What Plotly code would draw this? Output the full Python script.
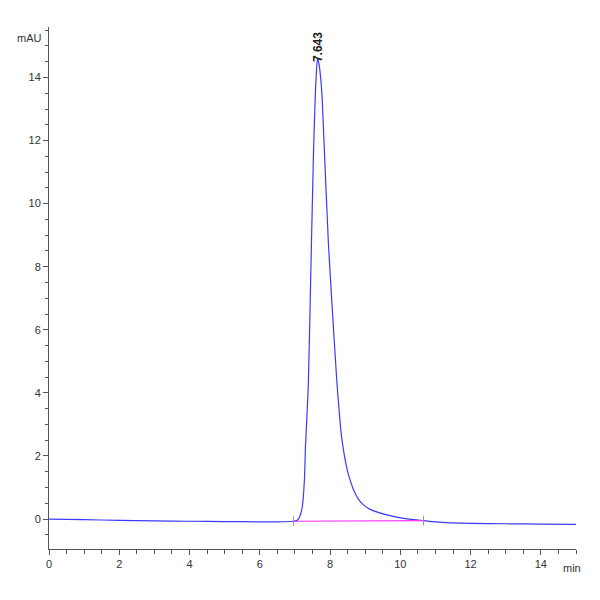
import plotly.graph_objects as go

# chromatogram trace (min, mAU)
time_min = [0, 1, 2, 3, 4, 5, 6, 6.5, 6.96, 7.05, 7.1, 7.15, 7.21, 7.27, 7.30,
            7.38, 7.45, 7.53, 7.585, 7.615, 7.643, 7.69, 7.735, 7.775, 7.83,
            7.95, 8.05, 8.19, 8.28, 8.34, 8.49, 8.58, 8.67, 8.8, 8.96, 9.1,
            9.24, 9.62, 10.09, 10.66, 11, 12, 13, 14, 15]
signal_mau = [0.0, -0.02, -0.04, -0.06, -0.07, -0.08, -0.09, -0.09, -0.07, -0.05,
              0.0, 0.12, 0.39, 1.24, 2.29,
              4.2, 7.7, 11.69, 13.59, 14.25, 14.6, 14.4, 13.95, 13.35, 11.9,
              8.8, 6.9, 4.4, 3.14, 2.5, 1.55, 1.2, 0.92, 0.64, 0.44, 0.33,
              0.26, 0.13, 0.02, -0.05, -0.09, -0.14, -0.15, -0.16, -0.17]

# integration baseline of the peak
base_time = [6.96, 10.66]
base_mau = [-0.07, -0.05]

peak_rt = 7.643
peak_height = 14.6

x_ticks = [0, 2, 4, 6, 8, 10, 12, 14]
y_ticks = [0, 2, 4, 6, 8, 10, 12, 14]

fig = go.Figure()

fig.add_trace(go.Scatter(
    x=time_min, y=signal_mau, mode='lines',
    line=dict(color='#3a3aff', width=1.2, shape='spline', smoothing=0.5),
    hoverinfo='skip'
))

fig.add_trace(go.Scatter(
    x=base_time, y=base_mau, mode='lines',
    line=dict(color='#ff33ff', width=1.2),
    hoverinfo='skip'
))

# little markers where the baseline starts and stops
fig.add_trace(go.Scatter(
    x=base_time, y=base_mau, mode='markers',
    marker=dict(symbol='line-ns', size=7, line=dict(color='#999999', width=1)),
    hoverinfo='skip'
))

fig.add_annotation(
    x=peak_rt, y=peak_height, text=f'<b>{peak_rt:.3f}</b>',
    textangle=-90, showarrow=False,
    xanchor='center', yanchor='bottom', yshift=-6,
    font=dict(size=12, color='#222222', family='Liberation Sans')
)

fig.add_annotation(
    xref='paper', yref='paper', x=-0.01, y=0.995, text='mAU',
    showarrow=False, xanchor='right', yanchor='top',
    font=dict(size=11, color='#333333', family='Liberation Sans Narrow, Liberation Sans')
)
fig.add_annotation(
    xref='paper', yref='paper', x=0.993, y=-0.022, text='min',
    showarrow=False, xanchor='center', yanchor='top',
    font=dict(size=11, color='#333333', family='Liberation Sans Narrow, Liberation Sans')
)

axis_font = dict(size=11, color='#333333', family='Liberation Sans Narrow, Liberation Sans')

fig.update_xaxes(
    range=[0, 15], tickvals=x_ticks, showgrid=False, zeroline=False,
    showline=True, linecolor='#555555', linewidth=1, automargin=False,
    ticks='outside', ticklen=5, tickcolor='#555555',
    minor=dict(dtick=0.5, ticks='outside', ticklen=4, tickcolor='#555555'),
    tickfont=axis_font
)
fig.update_yaxes(
    range=[-0.95, 15.6], tickvals=y_ticks, showgrid=False, zeroline=False,
    showline=True, linecolor='#555555', linewidth=1, automargin=False,
    ticks='outside', ticklen=5, tickcolor='#555555',
    minor=dict(dtick=0.5, ticks='outside', ticklen=3, tickcolor='#555555'),
    tickfont=axis_font
)

# page adds about 8px of offset, so the margins are shifted to compensate
fig.update_layout(
    width=600, height=600,
    showlegend=False,
    paper_bgcolor='#FFFFFF',
    plot_bgcolor='#FFFFFF',
    margin=dict(l=41, r=32, t=19, b=59)
)

fig.write_html("out.html")
